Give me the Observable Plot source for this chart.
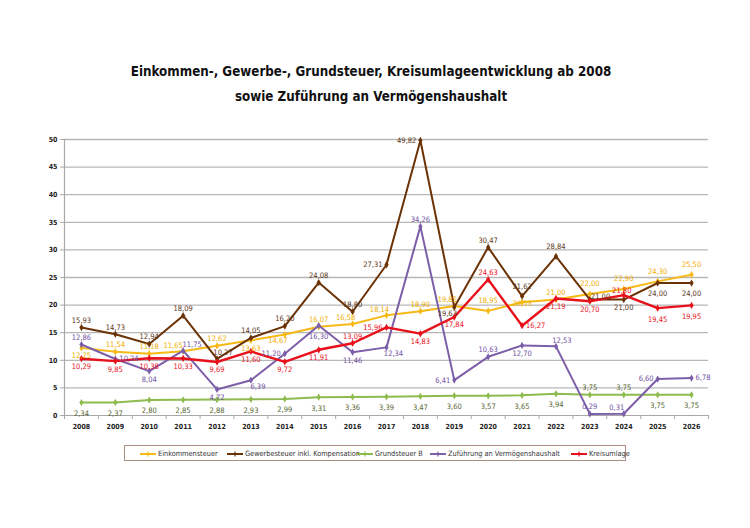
<!DOCTYPE html>
<html>
<head>
<meta charset="utf-8">
<script src="https://cdn.jsdelivr.net/npm/d3@7"></script>
<script src="https://cdn.jsdelivr.net/npm/@observablehq/plot@0.6"></script>
<style>
  html, body { margin: 0; padding: 0; background: #fff; }
  #wrap { position: relative; width: 750px; height: 528px; overflow: hidden; font-family: "DejaVu Sans Condensed", "DejaVu Sans", sans-serif; }
  #title { position: absolute; left: 0; top: 0; width: 750px; height: 120px; }
  #title div { position: absolute; left: 0; width: 742px; text-align: center; font-weight: bold; font-size: 14.5px; color: #111; transform: scaleX(0.915); transform-origin: 371px 0; }
  #chart { position: absolute; left: 0; top: 120px; }
  #legend { position: absolute; left: 124px; top: 445px; width: 502px; height: 16px; border: 1px solid #a89080; box-sizing: border-box; font-size: 7.3px; color: #333; }
  .li { position: absolute; top: 0; height: 15px; line-height: 15px; white-space: nowrap; }
  .li svg { position: absolute; left: 0; top: 4.5px; }
  .li span { position: absolute; left: 18px; top: 0; }
</style>
</head>
<body>
<div id="wrap">
  <div id="title">
    <div id="t1" style="top:63px">Einkommen-, Gewerbe-, Grundsteuer, Kreisumlageentwicklung ab 2008</div>
    <div id="t2" style="top:88px">sowie Zuführung an Vermögenshaushalt</div>
  </div>
  <div id="chart"></div>
  <div id="legend"></div>
</div>
<script>
// ---- data ----
const years = [2008, 2009, 2010, 2011, 2012, 2013, 2014, 2015, 2016, 2017, 2018, 2019, 2020, 2021, 2022, 2023, 2024, 2025, 2026];
const seriesNames = ["Einkommensteuer", "Gewerbesteuer inkl. Kompensation", "Grundsteuer B", "Zuführung an Vermögenshaushalt", "Kreisumlage"];
const einkommensteuer = [12.25, 11.54, 11.18, 11.65, 12.62, 13.63, 14.67, 16.07, 16.58, 18.14, 18.90, 19.85, 18.95, 20.53, 21.00, 22.00, 22.90, 24.30, 25.50];
const gewerbesteuer = [15.93, 14.73, 12.94, 18.09, 10.27, 14.05, 16.20, 24.08, 18.80, 27.31, 49.82, 19.63, 30.47, 21.62, 28.84, 21.00, 21.00, 24.00, 24.00];
const grundsteuerB = [2.34, 2.37, 2.80, 2.85, 2.88, 2.93, 2.99, 3.31, 3.36, 3.39, 3.47, 3.60, 3.57, 3.65, 3.94, 3.75, 3.75, 3.75, 3.75];
const zufuehrung = [12.86, 10.24, 8.04, 11.75, 4.72, 6.39, 11.20, 16.30, 11.46, 12.34, 34.26, 6.41, 10.63, 12.70, 12.53, 0.29, 0.31, 6.60, 6.78];
const kreisumlage = [10.29, 9.85, 10.38, 10.33, 9.69, 11.60, 9.72, 11.91, 13.09, 15.96, 14.83, 17.84, 24.63, 16.27, 21.19, 20.70, 21.80, 19.45, 19.95];
const yTicks = [0, 5, 10, 15, 20, 25, 30, 35, 40, 45, 50];

// ---- label placement codes (layout only) ----
const placeEink  = ["S","N","N","NWW","N","S","SW","N","NW","NW","N","NW","N2","C","N","N2","N2","N2","N2"];
const placeGew   = ["N","N","N","N","NE","N","N","N","N","W","W","SW","N","N2","N2","ENE","S","S2","S2"];
const placeGrund = ["S2","S2","S2","S2","S2","S2","S2","S2","S2","S2","S2","S2","S2","S2","S2","N","N","S2","S2"];
const placeZuf   = ["N","E","S","NEE","S","SE","W","S2","S","SE","N","W","N","S","NE","N","NW","W","E"];
const placeKreis = ["S","S","S","S","S","S","S","S","N","W","S","S","N","E","S","S","WNW","S2","S2"];
const placements = {
  N:   {dx: 0,   dy: -7,  anchor: "middle"},
  N2:  {dx: 0,   dy: -10, anchor: "middle"},
  S:   {dx: 0,   dy: 8,   anchor: "middle"},
  S2:  {dx: 0,   dy: 11,  anchor: "middle"},
  E:   {dx: 4,   dy: 0,   anchor: "start"},
  ENE: {dx: 1,   dy: -3,  anchor: "start"},
  W:   {dx: -4,  dy: 0,   anchor: "end"},
  WNW: {dx: -2,  dy: -5,  anchor: "middle"},
  NE:  {dx: 6,   dy: -6,  anchor: "middle"},
  NEE: {dx: 9,   dy: -6,  anchor: "middle"},
  NW:  {dx: -7,  dy: -6,  anchor: "middle"},
  NWW: {dx: -10, dy: -6,  anchor: "middle"},
  SE:  {dx: 7,   dy: 6,   anchor: "middle"},
  SW:  {dx: -7,  dy: 6,   anchor: "middle"},
  C:   {dx: 0,   dy: 1,   anchor: "middle"}
};

const styles = [
  {values: einkommensteuer, place: placeEink,  stroke: "#f6b914", label: "#f0ae00", width: 2},
  {values: gewerbesteuer,   place: placeGew,   stroke: "#6b3206", label: "#5a3519", width: 2},
  {values: grundsteuerB,    place: placeGrund, stroke: "#8dbb4e", label: "#56642f", width: 2},
  {values: zufuehrung,      place: placeZuf,   stroke: "#7d5ea8", label: "#7150a3", width: 2},
  {values: kreisumlage,     place: placeKreis, stroke: "#e8101a", label: "#e8101a", width: 2.4}
];

const fmt = v => v.toFixed(2).replace(".", ",");
const font = "DejaVu Sans Condensed, DejaVu Sans, sans-serif";
const boundaries = years.concat([years[years.length - 1] + 1]).map(y => y - 0.5);

const marks = [];
marks.push(Plot.ruleY(yTicks.filter(t => t > 0), {stroke: "#b7b7b7", strokeWidth: 1.3}));
marks.push(Plot.ruleX([boundaries[0]], {y1: 0, y2: 50, stroke: "#a8a8a8", strokeWidth: 1.2}));
marks.push(Plot.ruleY([0], {stroke: "#a8a8a8", strokeWidth: 1.2}));
marks.push(Plot.axisY({ticks: yTicks, tickSize: 4, tickPadding: 3, stroke: "#a8a8a8", fontSize: 7, fontWeight: "bold", fill: "#222", label: null, fontFamily: font}));
marks.push(Plot.axisX({ticks: boundaries, tickSize: 4, tickFormat: () => "", stroke: "#a8a8a8", label: null}));
marks.push(Plot.axisX({ticks: years, tickSize: 0, tickPadding: 9, tickFormat: d => String(d), fontSize: 7, fontWeight: "bold", fill: "#222", label: null, fontFamily: font}));

styles.forEach((s, k) => {
  const rows = years.map((yr, i) => ({year: yr, value: s.values[i], series: seriesNames[k], place: s.place[i]}));
  marks.push(Plot.line(rows, {x: "year", y: "value", stroke: s.stroke, strokeWidth: s.width}));
  marks.push(Plot.dot(rows, {x: "year", y: "value", fill: s.stroke, stroke: "none", symbol: "diamond", r: 2.2}));
  s.rows = rows;
});
styles.forEach(s => {
  Object.entries(placements).forEach(([code, p]) => {
    const sub = s.rows.filter(d => d.place === code);
    if (sub.length) {
      marks.push(Plot.text(sub, {x: "year", y: "value", text: d => fmt(d.value), fill: s.label, dx: p.dx, dy: p.dy, textAnchor: p.anchor, fontSize: 7.5, fontFamily: font}));
    }
  });
});

const chart = Plot.plot({
  width: 750,
  height: 315,
  marginLeft: 64,
  marginRight: 42,
  marginTop: 19,
  marginBottom: 20,
  x: {domain: [boundaries[0], boundaries[boundaries.length - 1]], axis: null},
  y: {domain: [0, 50], axis: null},
  style: {fontFamily: font, background: "transparent", overflow: "visible"},
  marks
});
document.getElementById("chart").appendChild(chart);

// legend
const legendX = [15, 102, 232, 305, 446];
const legend = document.getElementById("legend");
seriesNames.forEach((name, k) => {
  const el = document.createElement("div");
  el.className = "li";
  el.style.left = legendX[k] + "px";
  el.innerHTML = `<svg width="18" height="6"><line x1="0" x2="16" y1="3" y2="3" stroke="${styles[k].stroke}" stroke-width="2"/><line x1="8" x2="8" y1="0.5" y2="5.5" stroke="${styles[k].stroke}" stroke-width="1.2"/></svg><span>${name}</span>`;
  legend.appendChild(el);
});
</script>
</body>
</html>
